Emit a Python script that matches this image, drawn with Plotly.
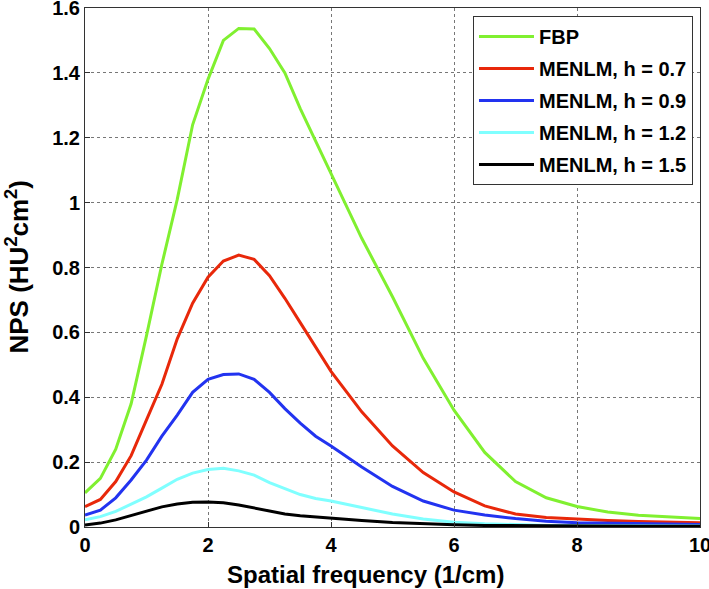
import plotly.graph_objects as go

freq = [0, 0.25, 0.5, 0.75, 1, 1.25, 1.5, 1.75, 2, 2.25, 2.5, 2.75, 3, 3.25, 3.5, 3.75,
        4, 4.5, 5, 5.5, 6, 6.5, 7, 7.5, 8, 8.5, 9, 9.5, 10]

nps_fbp = [0.105, 0.15, 0.24, 0.38, 0.59, 0.81, 1.01, 1.24, 1.38, 1.50, 1.537, 1.535, 1.475, 1.40, 1.29, 1.19,
           1.09, 0.89, 0.71, 0.52, 0.36, 0.23, 0.14, 0.09, 0.063, 0.046, 0.036, 0.030, 0.026]
nps_h07 = [0.063, 0.085, 0.14, 0.22, 0.33, 0.44, 0.58, 0.69, 0.77, 0.82, 0.838, 0.825, 0.775, 0.705, 0.63, 0.555,
           0.48, 0.355, 0.25, 0.168, 0.108, 0.065, 0.04, 0.029, 0.024, 0.02, 0.017, 0.015, 0.013]
nps_h09 = [0.037, 0.052, 0.09, 0.145, 0.206, 0.28, 0.345, 0.415, 0.455, 0.47, 0.472, 0.455, 0.415, 0.365, 0.32, 0.28,
           0.25, 0.185, 0.125, 0.08, 0.052, 0.037, 0.026, 0.018, 0.013, 0.011, 0.010, 0.009, 0.008]
nps_h12 = [0.022, 0.032, 0.048, 0.07, 0.093, 0.12, 0.147, 0.166, 0.177, 0.181, 0.173, 0.16, 0.137, 0.118, 0.10, 0.088,
           0.08, 0.06, 0.04, 0.025, 0.015, 0.01, 0.007, 0.005, 0.004, 0.0035, 0.003, 0.003, 0.003]
nps_h15 = [0.006, 0.012, 0.022, 0.036, 0.05, 0.062, 0.071, 0.076, 0.077, 0.075, 0.068, 0.058, 0.048, 0.04, 0.035, 0.031,
           0.027, 0.02, 0.014, 0.01, 0.007, 0.005, 0.004, 0.003, 0.003, 0.002, 0.002, 0.002, 0.002]

series_names = ["FBP", "MENLM, h = 0.7", "MENLM, h = 0.9", "MENLM, h = 1.2", "MENLM, h = 1.5"]
series_values = [nps_fbp, nps_h07, nps_h09, nps_h12, nps_h15]
colors = ["#80F030", "#E8280A", "#2233F0", "#80FFFF", "#000000"]

x_ticks = [0, 2, 4, 6, 8, 10]
x_tick_labels = ["0", "2", "4", "6", "8", "10"]
y_ticks = [0, 0.2, 0.4, 0.6, 0.8, 1, 1.2, 1.4, 1.6]
y_tick_labels = ["0", "0.2", "0.4", "0.6", "0.8", "1", "1.2", "1.4", "1.6"]

FONT = "Liberation Sans, Arial, sans-serif"

fig = go.Figure()
for i, (name, vals, col) in enumerate(zip(series_names, series_values, colors)):
    fig.add_trace(go.Scatter(x=freq, y=vals, mode="lines", name="<b>%s</b>" % name,
                             line=dict(color=col, width=3), legendgroup=str(i)))

axis_common = dict(showline=True, linecolor="#333333", linewidth=1, mirror=True,
                   showgrid=True, gridcolor="#777777", griddash="dot", gridwidth=1,
                   ticks="inside", ticklen=5, tickcolor="#333333", zeroline=False,
                   automargin=False, ticklabeloverflow="allow",
                   tickfont=dict(family=FONT, size=20, color="black"))

fig.update_layout(
    width=709, height=589,
    margin=dict(l=85, r=9, t=8, b=62),
    paper_bgcolor="white", plot_bgcolor="white",
    font=dict(family=FONT, color="black"),
    showlegend=True,
    legend=dict(x=0.9886, y=0.9846, xanchor="right", yanchor="top",
                bgcolor="white", bordercolor="#333333", borderwidth=1,
                font=dict(family=FONT, size=20, color="black"),
                itemwidth=55, tracegroupgap=3, traceorder="grouped"),
    xaxis=dict(range=[0, 10], tickvals=x_ticks,
               ticktext=["<b>%s</b>" % t for t in x_tick_labels],
               **axis_common),
    yaxis=dict(range=[0, 1.6], tickvals=y_ticks,
               ticktext=["<b>%s</b>" % t for t in y_tick_labels],
               **axis_common),
    annotations=[
        dict(text="<b>Spatial frequency (1/cm)</b>", xref="paper", yref="paper",
             x=0.4553, y=0, xanchor="center", yanchor="middle", yshift=-47,
             showarrow=False, font=dict(family=FONT, size=24, color="black")),
        dict(text="<b>NPS (HU<sup>2</sup>cm<sup>2</sup>)</b>", xref="paper", yref="paper",
             x=0, y=0.5, xanchor="center", yanchor="middle", xshift=-67, textangle=-90,
             showarrow=False, font=dict(family=FONT, size=26, color="black")),
    ],
)

fig.write_html("out.html", config={"displayModeBar": False},
               post_script="document.body.style.margin='0px';")
